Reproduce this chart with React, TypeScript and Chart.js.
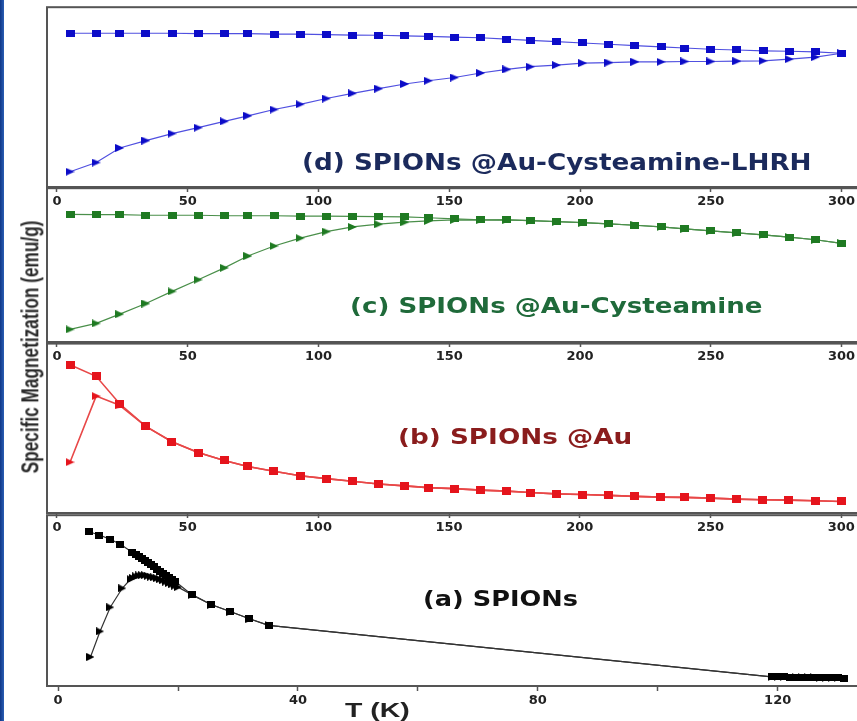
import React, { useEffect, useLayoutEffect, useRef } from "react";
import { Chart, registerables } from "chart.js";

Chart.register(...registerables);

// ---------- data (y in arbitrary units 0-100 per panel) ----------
const temperaturesK = [5, 15, 24, 34, 44, 54, 64, 73, 83, 93, 103, 113, 123, 133, 142, 152, 162, 172, 181, 191, 201, 211, 221, 231, 240, 250, 260, 270, 280, 290, 300];

const fcD = [85.5, 85.5, 85.5, 85.5, 85.5, 85.3, 85.3, 85.3, 85.0, 85.0, 84.7, 84.5, 84.4, 84.1, 83.8, 83.4, 83.0, 82.2, 81.6, 80.8, 80.1, 79.4, 78.6, 77.9, 77.3, 76.6, 76.2, 75.7, 75.5, 75.1, 74.4];
const zfcD = [8.5, 13.6, 21.7, 25.8, 29.7, 33.0, 36.5, 39.6, 43.1, 46.0, 49.2, 52.1, 54.7, 57.3, 59.1, 60.9, 63.4, 65.4, 66.9, 67.8, 68.9, 69.2, 69.6, 69.6, 69.8, 69.8, 70.0, 70.2, 71.1, 72.2, 74.4];

const fcC = [83.0, 82.8, 82.8, 82.4, 82.4, 82.4, 82.1, 82.1, 82.1, 81.9, 81.9, 81.7, 81.5, 81.3, 80.8, 80.0, 79.5, 79.4, 78.9, 78.3, 77.6, 76.8, 75.9, 74.8, 73.5, 72.3, 71.0, 69.7, 68.2, 66.5, 64.1];
const zfcC = [8.2, 12.1, 18.1, 25.0, 32.9, 40.5, 48.2, 55.9, 62.4, 67.5, 71.8, 74.8, 76.6, 77.9, 78.7, 79.4, 79.3, 79.4, 78.9, 78.3, 77.6, 76.8, 75.9, 74.8, 73.5, 72.3, 71.0, 69.7, 68.2, 66.5, 64.1];

const fcB = [87.5, 80.7, 64.5, 51.1, 42.1, 35.7, 31.0, 27.5, 24.6, 22.0, 20.3, 18.7, 17.1, 16.0, 15.0, 14.4, 13.5, 12.9, 12.1, 11.3, 10.9, 10.4, 9.8, 9.4, 9.2, 8.8, 8.2, 7.8, 7.6, 7.2, 6.8];
const zfcB = [30.0, 69.0, 63.6, 51.1, 42.1, 35.7, 31.0, 27.5, 24.6, 22.0, 20.3, 18.7, 17.1, 16.0, 15.0, 14.4, 13.5, 12.9, 12.1, 11.3, 10.9, 10.4, 9.8, 9.4, 9.2, 8.8, 8.2, 7.8, 7.6, 7.2, 6.8];

const tempsFcA = [5.1, 6.9, 8.6, 10.4, 12.4, 13.0, 13.5, 14.0, 14.5, 15.0, 15.5, 16.0, 16.5, 17.0, 17.5, 18.0, 18.5, 19.0, 19.5, 22.3, 25.5, 28.7, 31.9, 35.1, 119, 120, 121, 122, 123, 124, 125, 126, 127, 128, 129, 130, 131];
const fcA = [90.3, 88.4, 86.0, 83.0, 78.1, 77.0, 75.8, 74.6, 73.4, 72.2, 71.0, 69.8, 68.5, 67.3, 66.1, 64.9, 63.7, 62.5, 61.3, 53.5, 47.7, 43.6, 39.4, 35.5, 5.4, 5.3, 5.3, 5.2, 5.1, 5.1, 5.0, 5.0, 4.9, 4.9, 4.8, 4.7, 4.6];
const tempsZfcA = [5.4, 7.0, 8.7, 10.7, 12.1, 12.5, 13.0, 13.5, 14.0, 14.5, 15.0, 15.5, 16.0, 16.5, 17.0, 17.5, 18.0, 18.5, 19.0, 19.5, 20.0, 22.3, 25.5, 28.7, 31.9, 35.1, 119, 120, 121, 122, 123, 124, 125, 126, 127, 128, 129, 130, 131];
const zfcA = [17.0, 32.0, 46.1, 57.2, 62.6, 63.3, 64.2, 64.7, 64.9, 64.9, 64.5, 64.0, 63.6, 63.1, 62.5, 61.9, 61.1, 60.3, 59.5, 58.7, 57.9, 53.5, 47.7, 43.6, 39.4, 35.5, 5.4, 5.3, 5.3, 5.2, 5.1, 5.1, 5.0, 5.0, 4.9, 4.9, 4.8, 4.7, 4.6];

const panelTitles = ["(d) SPIONs @Au-Cysteamine-LHRH", "(c) SPIONs @Au-Cysteamine", "(b) SPIONs @Au", "(a) SPIONs"];
const yAxisTitle = "Specific Magnetization (emu/g)";
const xAxisTitle = "T (K)";
const highTickStep = 50;
const lowTickStep = 20;
const lowLabelEvery = 40;

// ---------- helpers ----------
function marker(shape: "square" | "triangle", color: string, w: number, h: number) {
  const c = document.createElement("canvas");
  c.width = w;
  c.height = h;
  const g = c.getContext("2d")!;
  g.fillStyle = color;
  if (shape === "square") {
    g.fillRect(0, 0, w, h);
  } else {
    g.beginPath();
    g.moveTo(0, 0);
    g.lineTo(w, h / 2);
    g.lineTo(0, h);
    g.closePath();
    g.fill();
  }
  return c;
}

const pts = (xs: number[], ys: number[]) => xs.map((x, i) => ({ x, y: ys[i] }));

const framePlugin = {
  id: "frame",
  afterDraw(chart: any) {
    const { ctx, chartArea: a } = chart;
    ctx.save();
    ctx.strokeStyle = "#555";
    ctx.lineWidth = 2;
    ctx.strokeRect(a.left, a.top, a.right - a.left, a.bottom - a.top);
    ctx.restore();
  },
};

type PanelSpec = {
  top: number;
  bottom: number;
  xMin: number;
  xMax: number;
  step: number;
  labelEvery: number;
  series: { xs: number[]; ys: number[]; shape: "square" | "triangle"; color: string; line: string; lw: number; w: number; h: number }[];
};

const CANVAS_W = 880;
const AXIS_H = 22;
const PAD_TOP = 4;

function Panel({ spec }: { spec: PanelSpec }) {
  const ref = useRef<HTMLCanvasElement>(null);
  useEffect(() => {
    const chart = new Chart(ref.current!, {
      type: "line",
      data: {
        datasets: spec.series.map((s) => ({
          data: pts(s.xs, s.ys),
          borderColor: s.line,
          borderWidth: s.lw,
          backgroundColor: s.color,
          pointStyle: marker(s.shape, s.color, s.w, s.h) as any,
          pointRadius: 4,
          tension: 0,
          fill: false,
        })),
      },
      options: {
        animation: false,
        responsive: false,
        maintainAspectRatio: false,
        layout: { padding: { top: PAD_TOP, left: 47, right: 0, bottom: 0 } },
        plugins: { legend: { display: false }, tooltip: { enabled: false } },
        scales: {
          x: {
            type: "linear",
            min: spec.xMin,
            max: spec.xMax,
            afterFit: (s: any) => {
              s.height = AXIS_H;
            },
            border: { display: false },
            grid: { display: true, drawOnChartArea: false, drawTicks: true, tickLength: 5, tickColor: "#555", tickWidth: 1.5 },
            ticks: {
              stepSize: spec.step,
              includeBounds: false,
              autoSkip: false,
              maxRotation: 0,
              padding: 2,
              color: "#222",
              font: { family: "DejaVu Sans", weight: "bold", size: 13 },
              callback: (v: any) => (Number(v) % spec.labelEvery === 0 ? String(v) : ""),
            },
          },
          y: { display: false, min: 0, max: 100 },
        },
      } as any,
      plugins: [framePlugin],
    });
    return () => chart.destroy();
  }, []);
  const h = spec.bottom - spec.top + PAD_TOP + AXIS_H;
  return (
    <canvas
      ref={ref}
      width={CANVAS_W}
      height={h}
      style={{ position: "absolute", left: 0, top: spec.top - PAD_TOP, width: CANVAS_W, height: h }}
    />
  );
}

function FitText(props: { text: string; left: number; cy: number; width: number; size: number; color: string; family: string; sy?: number }) {
  const ref = useRef<HTMLDivElement>(null);
  useLayoutEffect(() => {
    const el = ref.current!;
    const w = el.offsetWidth;
    el.style.transform = `translateY(-50%) scale(${props.width / w}, ${props.sy ?? 1})`;
  }, []);
  return (
    <div
      ref={ref}
      style={{
        position: "absolute",
        left: props.left,
        top: props.cy,
        whiteSpace: "nowrap",
        fontFamily: props.family,
        fontWeight: "bold",
        fontSize: props.size,
        lineHeight: 1,
        color: props.color,
        transformOrigin: "0 50%",
      }}
    >
      {props.text}
    </div>
  );
}

function RotatedTitle({ text, cx, cy, length }: { text: string; cx: number; cy: number; length: number }) {
  const ref = useRef<HTMLDivElement>(null);
  useLayoutEffect(() => {
    const el = ref.current!;
    const w = el.offsetWidth;
    el.style.transform = `translate(-50%, -50%) rotate(-90deg) scale(${length / w}, 1.3)`;
  }, []);
  return (
    <div
      ref={ref}
      style={{
        position: "absolute",
        left: cx,
        top: cy,
        whiteSpace: "nowrap",
        fontFamily: "Liberation Sans",
        fontWeight: "bold",
        fontSize: 19,
        lineHeight: 1,
        color: "#2a2a2a",
      }}
    >
      {text}
    </div>
  );
}

const hiMin = -3.8;
const hiMax = 312.7;

const panels: PanelSpec[] = [
  {
    top: 6, bottom: 187, xMin: hiMin, xMax: hiMax, step: highTickStep, labelEvery: highTickStep,
    series: [
      { xs: temperaturesK, ys: fcD, shape: "square", color: "#0c0cc8", line: "#5050e0", lw: 1.2, w: 9, h: 7 },
      { xs: temperaturesK, ys: zfcD, shape: "triangle", color: "#0c0cc8", line: "#5050e0", lw: 1.2, w: 9, h: 8 },
    ],
  },
  {
    top: 187, bottom: 342, xMin: hiMin, xMax: hiMax, step: highTickStep, labelEvery: highTickStep,
    series: [
      { xs: temperaturesK, ys: fcC, shape: "square", color: "#1f7a22", line: "#4a8f4a", lw: 1.2, w: 9, h: 7 },
      { xs: temperaturesK, ys: zfcC, shape: "triangle", color: "#1f7a22", line: "#4a8f4a", lw: 1.2, w: 9, h: 8 },
    ],
  },
  {
    top: 342, bottom: 513, xMin: hiMin, xMax: hiMax, step: highTickStep, labelEvery: highTickStep,
    series: [
      { xs: temperaturesK, ys: fcB, shape: "square", color: "#e5141c", line: "#e84848", lw: 1.6, w: 9, h: 8 },
      { xs: temperaturesK, ys: zfcB, shape: "triangle", color: "#e5141c", line: "#e84848", lw: 1.6, w: 9, h: 8 },
    ],
  },
  {
    top: 514, bottom: 686, xMin: -1.85, xMax: 136.2, step: lowTickStep, labelEvery: lowLabelEvery,
    series: [
      { xs: tempsFcA, ys: fcA, shape: "square", color: "#000", line: "#333", lw: 1.2, w: 8, h: 7 },
      { xs: tempsZfcA, ys: zfcA, shape: "triangle", color: "#000", line: "#333", lw: 1.2, w: 8, h: 8 },
    ],
  },
];

export default function App() {
  return (
    <div style={{ position: "fixed", left: 0, top: 0, width: 857, height: 721, overflow: "hidden", background: "#fff" }}>
      <div style={{ position: "absolute", left: 0, top: 0, width: 4, height: 721, background: "linear-gradient(to right, #0f3787, #2a5eb4)" }} />
      {panels.map((p, i) => (
        <Panel key={i} spec={p} />
      ))}
      <FitText text={panelTitles[0]} left={302} cy={162} width={510} size={23} color="#1b2a5c" family="DejaVu Sans" />
      <FitText text={panelTitles[1]} left={350} cy={306} width={413} size={22} color="#1f6a3a" family="DejaVu Sans" />
      <FitText text={panelTitles[2]} left={398} cy={437} width={234} size={22} color="#8a1c1c" family="DejaVu Sans" />
      <FitText text={panelTitles[3]} left={423} cy={599} width={155} size={22} color="#111" family="DejaVu Sans" />
      <FitText text={xAxisTitle} left={345} cy={709} width={65} size={21} color="#222" family="Liberation Sans" />
      <RotatedTitle text={yAxisTitle} cx={30} cy={347} length={253} />
    </div>
  );
}
